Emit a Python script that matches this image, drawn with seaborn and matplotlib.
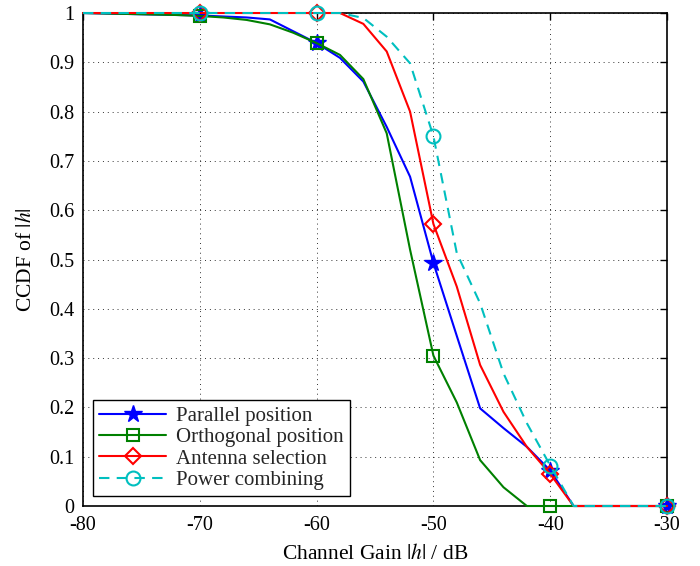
import numpy as np
import pandas as pd
import matplotlib
matplotlib.use("Agg")
import matplotlib.pyplot as plt
import seaborn as sns

# channel gain grid (dB)
gain_db = [-80, -78, -76, -74, -72, -70, -68, -66, -64, -62, -60, -58, -56,
           -54, -52, -50, -48, -46, -44, -42, -40, -38, -36, -34, -32, -30]

parallel = [1.0, 0.999, 0.998, 0.997, 0.996, 0.995, 0.993, 0.991, 0.987, 0.963,
            0.939, 0.909, 0.861, 0.769, 0.668, 0.493, 0.345, 0.198, 0.158, 0.120,
            0.072, 0.0, 0.0, 0.0, 0.0, 0.0]
orthogonal = [1.0, 0.999, 0.998, 0.997, 0.996, 0.994, 0.991, 0.986, 0.977, 0.960,
              0.939, 0.915, 0.866, 0.756, 0.520, 0.305, 0.210, 0.093, 0.038, 0.0,
              0.0, 0.0, 0.0, 0.0, 0.0, 0.0]
antenna_sel = [1.0, 1.0, 1.0, 1.0, 1.0, 1.0, 1.0, 1.0, 1.0, 1.0,
               1.0, 1.0, 0.978, 0.922, 0.800, 0.572, 0.445, 0.286, 0.191, 0.120,
               0.065, 0.0, 0.0, 0.0, 0.0, 0.0]
power_comb = [1.0, 1.0, 1.0, 1.0, 1.0, 1.0, 1.0, 1.0, 1.0, 1.0,
              1.0, 1.0, 0.990, 0.952, 0.898, 0.750, 0.513, 0.411, 0.269, 0.168,
              0.082, 0.0, 0.0, 0.0, 0.0, 0.0]

series_names = ["Parallel position", "Orthogonal position",
                "Antenna selection", "Power combining"]
series_values = [parallel, orthogonal, antenna_sel, power_comb]

x_ticks = [-80, -70, -60, -50, -40, -30]
y_ticks = [0, 0.1, 0.2, 0.3, 0.4, 0.5, 0.6, 0.7, 0.8, 0.9, 1]
y_tick_labels = ["0", "0.1", "0.2", "0.3", "0.4", "0.5", "0.6", "0.7", "0.8", "0.9", "1"]

df = pd.concat(
    [pd.DataFrame({"gain": gain_db, "ccdf": vals, "scheme": name})
     for name, vals in zip(series_names, series_values)],
    ignore_index=True,
)

sns.set_theme(style="white")
plt.rcParams["font.family"] = ["Liberation Serif", "DejaVu Serif"]
plt.rcParams["mathtext.fontset"] = "stix"
plt.rcParams["axes.unicode_minus"] = False

colors = {"Parallel position": (0, 0, 1), "Orthogonal position": (0, 0.5, 0),
          "Antenna selection": (1, 0, 0), "Power combining": (0, 0.75, 0.75)}
markers = {"Parallel position": "*", "Orthogonal position": "s",
           "Antenna selection": "D", "Power combining": "o"}
dashes = {"Parallel position": "", "Orthogonal position": "",
          "Antenna selection": "", "Power combining": (5, 3.5)}
marker_sizes = {"Parallel position": 13, "Orthogonal position": 9,
                "Antenna selection": 8, "Power combining": 10}

fig = plt.figure(figsize=(7, 5.66), dpi=100)
ax = fig.add_axes([0.1186, 0.106, 0.8343, 0.871])

sns.lineplot(data=df, x="gain", y="ccdf", hue="scheme", style="scheme",
             hue_order=series_names, style_order=series_names,
             palette=colors, markers=markers, dashes=dashes,
             markevery=(5, 5), markerfacecolor="none",
             markeredgewidth=1.5, linewidth=1.5, clip_on=False, zorder=3,
             legend=False, ax=ax)

# seaborn gives markers a white edge; use the line colour instead
for line, name in zip(ax.lines[:4], series_names):
    line.set_markeredgecolor(colors[name])
    line.set_markersize(marker_sizes[name])
    if name == "Parallel position":
        line.set_markerfacecolor(colors[name])
        line.set_markeredgewidth(1.0)

ax.set_xlim(-80, -30)
ax.set_ylim(0, 1)
ax.set_xticks(x_ticks)
ax.set_xticklabels([str(t) for t in x_ticks])
ax.set_yticks(y_ticks)
ax.set_yticklabels(y_tick_labels)
ax.grid(True, linestyle=(0, (1, 4)), color="black", linewidth=0.7, alpha=0.8)
ax.tick_params(direction="in", top=True, right=True, length=5, width=1,
               labelsize=14.5, colors="black")
ax.tick_params(axis="x", pad=7)
ax.tick_params(axis="y", pad=6)
for sp in ax.spines.values():
    sp.set_color("black")
    sp.set_linewidth(1.2)

ax.set_xlabel(r"Channel Gain $|h|$ / dB", fontsize=15.5, color="black", labelpad=7)
ax.set_ylabel(r"CCDF of $|h|$", fontsize=15.5, color="black", labelpad=10)

leg = ax.legend(ax.lines[:4], series_names, loc="lower left",
                bbox_to_anchor=(0.017, 0.02), fontsize=15, frameon=True,
                fancybox=False, edgecolor="black", framealpha=1,
                handlelength=3.2, handletextpad=0.5, labelspacing=0.08,
                borderpad=0.3, borderaxespad=0, numpoints=1)
leg.get_frame().set_linewidth(1.0)

fig.savefig("out.png", dpi=100)
